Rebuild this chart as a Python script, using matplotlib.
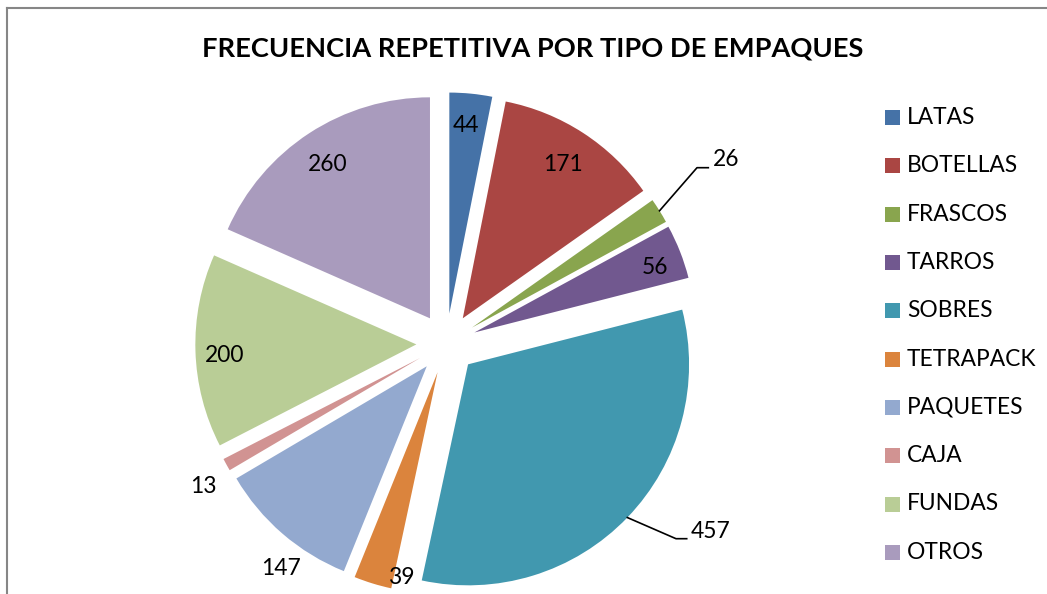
import numpy as np
import matplotlib
matplotlib.use("Agg")
import matplotlib.pyplot as plt
from matplotlib.patches import Rectangle
from matplotlib.lines import Line2D

# ---- data ----
categories = ["LATAS", "BOTELLAS", "FRASCOS", "TARROS", "SOBRES",
              "TETRAPACK", "PAQUETES", "CAJA", "FUNDAS", "OTROS"]
values = [44, 171, 26, 56, 457, 39, 147, 13, 200, 260]
colors = ["#4572A7", "#AA4643", "#89A54E", "#71588F", "#4198AF",
          "#DB843D", "#93A9CF", "#D19392", "#B9CD96", "#A99BBD"]
title = "FRECUENCIA REPETITIVA POR TIPO DE EMPAQUES"

# ---- layout (pixels) ----
W, H = 1047, 594
CX, CY, R = 446.4, 343.5, 221.0
EXPLODE = 0.136
FONT = "Lato"

fig = plt.figure(figsize=(W / 100, H / 100), dpi=100)
ax = fig.add_axes([0, 0, 1, 1])

def px(x, y):
    return ((x - CX) / R, (CY - y) / R)

wedges, _ = ax.pie(values, colors=colors, startangle=90, counterclock=False,
                   explode=[EXPLODE] * len(values), radius=1.0, center=(0, 0),
                   wedgeprops=dict(linewidth=0), frame=True)
ax.set_xlim(-CX / R, (W - CX) / R)
ax.set_ylim(-(H - CY) / R, CY / R)
ax.set_aspect("auto")
ax.axis("off")

# label placement: (radial distance in radius units, angle tweak in degrees, clockwise)
label_pos = [(0.989, -0.5), (0.968, 0.0), None, (1.005, 1.4), None,
             (1.076, -6.3), (1.262, -4.4), (1.276, -1.6), (1.003, -1.3), (0.973, -0.3)]
fs = 16.4
for w, v, lp in zip(wedges, values, label_pos):
    if lp is None:
        continue
    mid = 0.5 * (w.theta1 + w.theta2) - lp[1]
    r = lp[0]
    ax.text(r * np.cos(np.radians(mid)), r * np.sin(np.radians(mid)), str(v),
            ha="center", va="center", fontsize=fs, family=FONT, color="black")

# leader-line labels (FRASCOS, SOBRES)
def edge_point(w):
    mid = np.radians(0.5 * (w.theta1 + w.theta2))
    d = 1.0 + EXPLODE
    return d * np.cos(mid), d * np.sin(mid)

x0, y0 = edge_point(wedges[2])
e1 = px(697, 167.7); e2 = px(708.3, 167.7)
ax.add_line(Line2D([x0, e1[0], e2[0]], [y0, e1[1], e2[1]], color="black", lw=1.2))
t = px(713, 160)
ax.text(t[0], t[1], str(values[2]), ha="left", va="center", fontsize=fs, family=FONT)

x0, y0 = edge_point(wedges[4])
e1 = px(676, 538.7); e2 = px(686.7, 538.7)
ax.add_line(Line2D([x0, e1[0], e2[0]], [y0, e1[1], e2[1]], color="black", lw=1.2))
t = px(691, 531)
ax.text(t[0], t[1], str(values[4]), ha="left", va="center", fontsize=fs, family=FONT)

# title
fig.text(532.5 / W, 1 - 49 / H, title, ha="center", va="center",
         fontsize=19.6, fontweight="bold", family=FONT)

# legend (manual)
for i, (cat, col) in enumerate(zip(categories, colors)):
    yc = 117.6 + i * 48.3
    fig.patches.append(Rectangle((885 / W, 1 - (yc + 7.5) / H), 15 / W, 15 / H,
                                 transform=fig.transFigure, facecolor=col,
                                 edgecolor="none"))
    fig.text(907 / W, 1 - yc / H, cat, ha="left", va="center",
             fontsize=fs, family=FONT)

# chart border (left and top visible)
fig.lines.append(Line2D([7 / W, 7 / W], [0, 1 - 8 / H], transform=fig.transFigure,
                        color="#868686", lw=1.5))
fig.lines.append(Line2D([7 / W, 1], [1 - 8 / H, 1 - 8 / H], transform=fig.transFigure,
                        color="#868686", lw=1.5))

fig.savefig("out.png", dpi=100)
